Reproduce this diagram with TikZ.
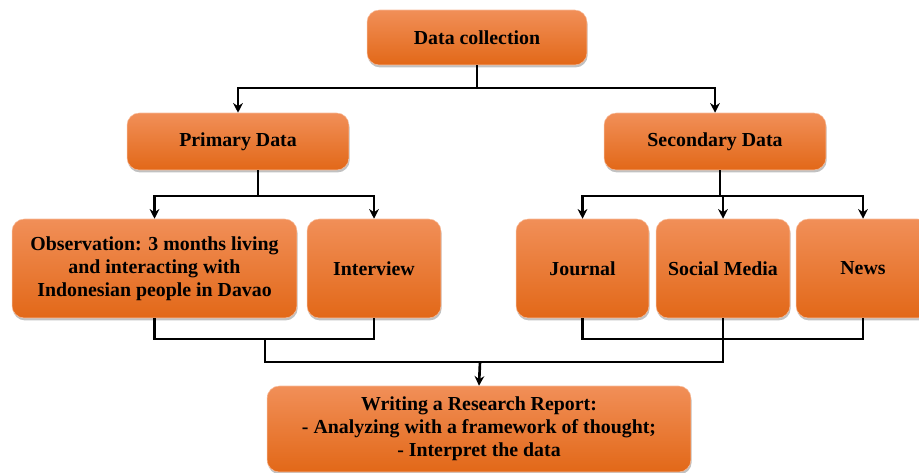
\documentclass[tikz,border=0pt]{standalone}
\usepackage{fontspec}
\setmainfont{Liberation Serif}
\usetikzlibrary{arrows.meta}
\usetikzlibrary{shadows}

\definecolor{boxtop}{RGB}{241,143,88}
\definecolor{boxmid}{RGB}{242,122,38}
\definecolor{boxbot}{RGB}{226,104,24}

\tikzset{
  box/.style={rounded corners=7pt, inner sep=0pt, align=center,
    top color=boxtop, middle color=boxmid, bottom color=boxbot,
    draw=boxtop!60!white, line width=0.3pt,
    drop shadow={shadow xshift=0.4pt, shadow yshift=-1.4pt, opacity=0.35, fill=black!70},
    font=\fontsize{11.3}{13}\selectfont\bfseries},
  link/.style={black, line width=1.5pt},
  arr/.style={link, -{Stealth[length=5.5pt,width=5.5pt]}}
}

\begin{document}
\begin{tikzpicture}[x=0.02cm, y=-0.02cm]

\useasboundingbox (0,0) rectangle (919,473);

% boxes
\node[box, minimum width=4.4cm, minimum height=1.1cm] (dc) at (477,37.5) {Data collection};
\node[box, minimum width=4.44cm, minimum height=1.14cm] (pd) at (238,141.5) {Primary Data};
\node[box, minimum width=4.44cm, minimum height=1.14cm] (sd) at (715,141.5) {Secondary Data};

\node[box, minimum width=5.7cm, minimum height=1.98cm] (obs) at (154.5,268.5)
  {Observation: 3 months living\\ and interacting with\\ Indonesian people in Davao};
\node[box, minimum width=2.68cm, minimum height=1.98cm] (int) at (374,268.5) {Interview};

\node[box, minimum width=2.66cm, minimum height=1.98cm] (jour) at (582.5,268.5) {Journal};
\node[box, minimum width=2.68cm, minimum height=1.98cm] (sm) at (723,268.5) {Social Media};
\node[box, minimum width=2.68cm, minimum height=1.98cm] (news) at (863,268.5) {News};

\node[box, minimum width=8.48cm, minimum height=1.72cm] (rep) at (479,429)
  {Writing a Research Report:\\ - Analyzing with a framework of thought;\\ - Interpret the data};

% junctions
\coordinate (j1) at (477,88);
\coordinate (j2) at (258,196);
\coordinate (j3) at (720,196);
\coordinate (j4) at (265,339);
\coordinate (j5) at (265,362);
\coordinate (j6) at (723,339);
\coordinate (j7) at (480,362);

% data collection -> primary / secondary
\draw[link] (dc.south) -- (j1);
\foreach \n in {pd,sd} {
 \draw[arr] (j1) -| (\n.north);
};

% primary -> observation / interview
\draw[link] (pd.south -| j2) -- (j2);
\foreach \n in {obs,int} {
 \draw[arr] (j2) -| (\n.north);
};

% secondary -> journal / social media / news
\draw[link] (sd.south -| j3) -- (j3);
\foreach \n in {jour,sm,news} {
 \draw[arr] (j3) -| (\n.north);
};

% sources -> report
\draw[link] (obs.south) |- (j4) -| (int.south);
\draw[link] (jour.south) |- (j6) -| (news.south);
\draw[link] (j4) -- (j5) -| (sm.south);
\draw[arr] (j7) -- (rep.north);

\end{tikzpicture}
\end{document}
